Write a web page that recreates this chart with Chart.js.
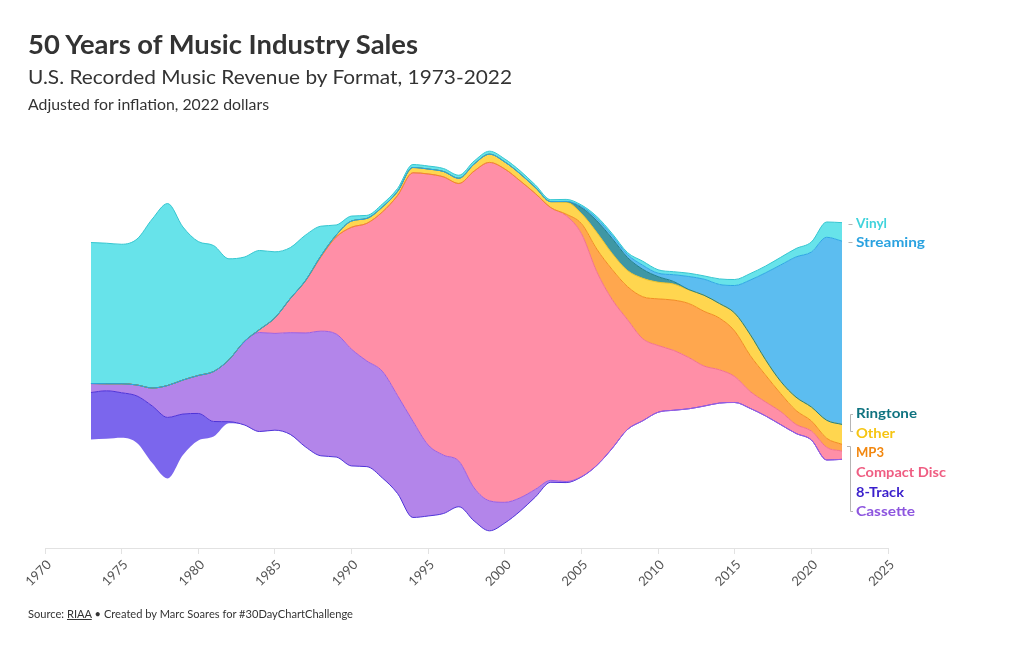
<!DOCTYPE html>
<html>
<head>
<meta charset="utf-8">
<title>50 Years of Music Industry Sales</title>
<script src="https://cdn.jsdelivr.net/npm/chart.js"></script>
<style>
  html, body { margin:0; padding:0; background:#fff; }
  #wrap { position:relative; width:1020px; height:650px; overflow:hidden; font-family: Lato, "Open Sans", sans-serif; color:#333; }
  #chart { position:absolute; left:0; top:0; }
  .txt { position:absolute; left:28px; white-space:nowrap; line-height:1; transform-origin:0 0; }
  #title { top:31px; font-size:26px; font-weight:700; color:#333; }
  #subtitle { top:66px; font-size:20px; color:#333; }
  #note { top:97px; font-size:15.5px; color:#333; }
  #source { top:608px; font-size:11px; color:#333; }
  #source u { text-decoration: underline; }
  .lab { position:absolute; white-space:nowrap; line-height:1; font-size:14px; font-weight:700; transform-origin:0 0; }
</style>
</head>
<body>
<div id="wrap">
  <canvas id="chart" width="1020" height="650"></canvas>
  <div class="txt" id="title" data-w="390">50 Years of Music Industry Sales</div>
  <div class="txt" id="subtitle" data-w="484">U.S. Recorded Music Revenue by Format, 1973-2022</div>
  <div class="txt" id="note" data-w="241">Adjusted for inflation, 2022 dollars</div>
  <div class="txt" id="source" data-w="325">Source: <u>RIAA</u> • Created by Marc Soares for #30DayChartChallenge</div>
</div>
<script>
// ---------------- DATA (US recorded music revenue, $ billions, 2022 dollars) ----------------
const years = [1973,1974,1975,1976,1977,1978,1979,1980,1981,1982,
               1983,1984,1985,1986,1987,1988,1989,1990,1991,1992,
               1993,1994,1995,1996,1997,1998,1999,2000,2001,2002,
               2003,2004,2005,2006,2007,2008,2009,2010,2011,2012,
               2013,2014,2015,2016,2017,2018,2019,2020,2021,2022];

const xTickLabels = [1970,1975,1980,1985,1990,1995,2000,2005,2010,2015,2020,2025];

const eightTrack = [3.13,3.20,3.00,3.13,3.80,4.07,2.73,1.80,1.00,0.10,
                    0,0,0,0,0,0,0,0,0,0,
                    0,0,0,0,0,0,0,0,0,0,
                    0,0,0,0,0,0,0,0,0,0,
                    0,0,0,0,0,0,0,0,0,0];

const cassette = [0.60,0.47,0.60,0.73,1.20,2.13,2.27,2.53,3.33,4.13,
                  5.53,6.60,6.45,6.78,7.60,8.31,8.20,7.78,7.04,7.11,
                  6.53,6.42,4.73,3.89,3.04,2.20,2.00,1.38,0.89,0.51,
                  0.13,0.07,0.02,0.01,0.01,0,0,0,0,0,
                  0,0,0,0,0,0,0,0,0,0];

const compactDisc = [0,0,0,0,0,0,0,0,0,0,
                     0.03,0.20,1.04,2.27,3.47,4.95,6.47,8.13,9.18,10.60,
                     13.33,16.56,18.07,18.55,18.51,21.13,22.56,22.22,21.13,19.71,
                     18.18,17.73,16.20,12.91,9.93,7.33,5.47,4.45,4.00,3.42,
                     2.67,2.22,1.73,1.13,0.93,0.87,0.60,0.60,0.85,0.55];

const mp3 = [0,0,0,0,0,0,0,0,0,0,
             0,0,0,0,0,0,0,0,0,0,
             0,0,0,0,0,0,0,0,0,0,
             0,0.10,0.67,1.51,2.00,2.20,2.80,3.11,3.35,3.60,
             3.65,3.45,3.03,2.41,1.80,1.20,0.93,0.67,0.60,0.45];

const other = [0,0,0,0,0,0,0,0,0,0,
               0,0,0,0,0.03,0.07,0.13,0.42,0.33,0.33,
               0.27,0.35,0.33,0.36,0.35,0.47,0.55,0.47,0.47,0.40,
               0.40,0.80,0.67,1.11,1.07,1.07,1.23,1.11,1.07,0.90,
               1.07,0.97,1.20,1.40,1.03,0.82,0.89,0.93,1.20,1.33];

const ringtone = [0,0,0,0,0,0,0,0,0,0,
                  0,0,0,0,0,0,0,0,0,0,
                  0,0,0,0,0,0,0,0,0,0,
                  0,0.03,0.40,0.77,1.00,0.87,0.60,0.37,0.17,0.03,
                  0,0,0,0,0,0,0,0,0,0];

const streaming = [0,0,0,0,0,0,0,0,0,0,
                   0,0,0,0,0,0,0,0,0,0,
                   0,0,0,0,0,0,0,0,0,0,
                   0,0.02,0.07,0.16,0.20,0.20,0.27,0.23,0.45,0.87,
                   1.07,1.27,1.84,3.61,5.77,7.76,9.35,10.33,12.20,12.22];

const vinyl = [9.40,9.37,9.30,9.73,11.27,12.13,10.20,8.93,8.40,6.73,
               5.63,5.27,4.40,3.40,3.03,1.98,0.67,0.33,0.20,0.20,
               0.20,0.20,0.20,0.20,0.20,0.20,0.20,0.20,0.20,0.17,
               0.13,0.13,0.10,0.13,0.13,0.13,0.27,0.23,0.20,0.22,
               0.22,0.37,0.40,0.43,0.45,0.51,0.56,0.67,1.02,1.23];

// stacking order, bottom -> top
const seriesNames = ['8-Track','Cassette','Compact Disc','MP3','Other','Ringtone','Streaming','Vinyl'];
const seriesValues = [eightTrack, cassette, compactDisc, mp3, other, ringtone, streaming, vinyl];

// ---------------- STYLE ----------------
const fillColors  = ['#7b66ed','#b385ea','#ff8fa7','#ffa74e','#ffd64f','#3f97a4','#5cbdf0','#67e3ea'];
const lineColors  = ['#4e33d8','#9a5fe3','#f2708f','#f28c22','#f3c426','#1d7f8a','#2ea6e4','#35c6d0'];
const labelColors = ['#3a1fcc','#8d55df','#ef5d82','#f2870f','#f6c512','#0f7380','#2aa2e0','#40d3dc'];
const labelY = {'Vinyl':223,'Streaming':242,'Ringtone':413,'Other':433,'MP3':452,'Compact Disc':472,'8-Track':492,'Cassette':511};
const labelW = {'Vinyl':31,'Streaming':69,'Ringtone':61,'Other':39,'MP3':28,'Compact Disc':90,'8-Track':48,'Cassette':59};

const PX_PER_BILLION = 15;
const CENTER_Y = 341;

// ---------------- BUILD STREAM (silhouette offset) ----------------
const totals = years.map((_, i) => seriesValues.reduce((s, arr) => s + arr[i], 0));
let running = totals.map(t => -t / 2);
const datasets = [{
  label: 'baseline',
  data: years.map((x, i) => ({ x, y: running[i] })),
  borderWidth: 0, pointRadius: 0, fill: false,
  borderColor: 'rgba(0,0,0,0)',
  cubicInterpolationMode: 'monotone',
  order: seriesNames.length + 1
}];
seriesNames.forEach((name, k) => {
  running = running.map((v, i) => v + seriesValues[k][i]);
  datasets.push({
    label: name,
    data: years.map((x, i) => ({ x, y: running[i] })),
    backgroundColor: fillColors[k],
    borderColor: lineColors[k],
    borderWidth: 1,
    pointRadius: 0,
    fill: '-1',
    cubicInterpolationMode: 'monotone',
    order: seriesNames.length - k
  });
});

const bracketPlugin = {
  id: 'brackets',
  afterDraw(chart) {
    const c = chart.ctx;
    c.save();
    c.lineWidth = 1;
    const seg = (col, pts) => { c.strokeStyle = col; c.beginPath(); c.moveTo(pts[0][0], pts[0][1]); for (let i = 1; i < pts.length; i++) c.lineTo(pts[i][0], pts[i][1]); c.stroke(); };
    seg('#b5b5b5', [[848.5, 224.5], [852.5, 224.5]]);
    seg('#b5b5b5', [[848.5, 242.5], [852.5, 242.5]]);
    seg('#b5b5b5', [[853, 414.5], [850.5, 414.5], [850.5, 431.5], [853, 431.5]]);
    seg('#b5b5b5', [[847, 446.5], [850.5, 446.5], [850.5, 511.5], [853, 511.5]]);
    c.restore();
  }
};

const chart = new Chart(document.getElementById('chart'), {
  type: 'line',
  data: { datasets },
  options: {
    responsive: false,
    devicePixelRatio: 1,
    animation: false,
    events: [],
    layout: { padding: { left: 45, right: 132, top: 130, bottom: 52 } },
    plugins: {
      legend: { display: false },
      tooltip: { enabled: false },
      filler: { drawTime: 'beforeDatasetsDraw' }
    },
    elements: { line: { cubicInterpolationMode: 'monotone' }, point: { radius: 0 } },
    scales: {
      x: {
        type: 'linear',
        min: xTickLabels[0],
        max: xTickLabels[xTickLabels.length - 1],
        afterBuildTicks: s => { s.ticks = xTickLabels.map(v => ({ value: v })); },
        afterFit: s => { s.height = 50; },
        grid: { display: true, drawOnChartArea: false, drawTicks: true, tickLength: 6, color: '#e2e2e2' },
        border: { display: true, color: '#e2e2e2' },
        ticks: {
          minRotation: 45, maxRotation: 45, padding: 3, labelOffset: 4,
          color: '#555', font: { family: 'Lato', size: 13 },
          callback: v => String(v)
        }
      },
      y: { display: false, min: -14, max: 14 }
    }
  },
  plugins: [bracketPlugin]
});

// map CENTER_Y to zero and keep a fixed pixel-per-billion scale
const ca = chart.chartArea;
chart.options.scales.y.max = (CENTER_Y - ca.top) / PX_PER_BILLION;
chart.options.scales.y.min = -(ca.bottom - CENTER_Y) / PX_PER_BILLION;
chart.update('none');

// ---------------- RIGHT-SIDE LABELS ----------------
const wrap = document.getElementById('wrap');
seriesNames.forEach((name, k) => {
  const d = document.createElement('div');
  d.className = 'lab';
  d.textContent = name;
  d.style.left = '856px';
  d.style.top = (labelY[name] - 7.5) + 'px';
  d.style.color = labelColors[k];
  d.dataset.w = labelW[name];
  wrap.appendChild(d);
});

function fitTexts() {
  document.querySelectorAll('[data-w]').forEach(el => {
    el.style.transform = 'none';
    const w = el.getBoundingClientRect().width;
    const target = +el.dataset.w;
    if (w > 0) el.style.transform = 'scaleX(' + (target / w) + ')';
  });
}
fitTexts();
if (document.fonts && document.fonts.ready) document.fonts.ready.then(fitTexts);
</script>
</body>
</html>
